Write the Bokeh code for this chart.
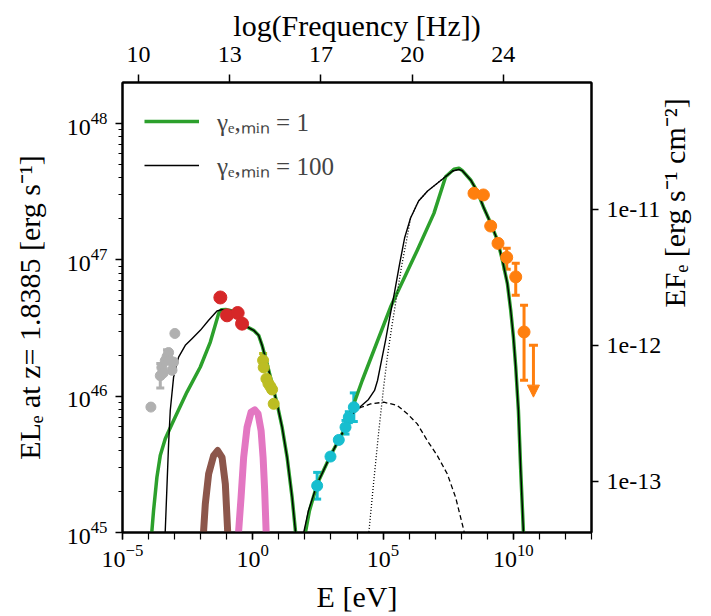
import math
import numpy as np
from bokeh.plotting import figure
from bokeh.models import (Range1d, LogAxis, FixedTicker, CustomJSTickFormatter,
                          Whisker, TeeHead, Arrow, NormalHead, ColumnDataSource, Legend,
                          LegendItem)
from bokeh.embed import file_html
from bokeh.resources import INLINE

# ---------------- data (log10 values) ----------------
# synchrotron hump
g1_sync_rise_logE = [-3.903, -3.871, -3.808, -3.679, -3.551, -3.359, -3.039, -2.526, -2.014, -1.630, -1.310, -1.207]
g1_sync_rise_logL = [44.939, 45.013, 45.160, 45.405, 45.564, 45.687, 45.821, 46.030, 46.214, 46.397, 46.606, 46.634]
g100_sync_rise_logE = [-3.367, -3.359, -3.295, -3.231, -3.167, -3.039, -2.847, -2.590, -2.334, -2.014, -1.694, -1.373, -1.207]
g100_sync_rise_logL = [44.939, 45.013, 45.331, 45.650, 45.895, 46.140, 46.287, 46.373, 46.422, 46.483, 46.557, 46.625, 46.634]
sync_fall_logE = [-1.015, -0.784, -0.477, -0.220, 0.034, 0.227, 0.357, 0.549, 0.741, 0.934, 1.126, 1.318, 1.510, 1.637, 1.675]
sync_fall_logL = [46.635, 46.626, 46.579, 46.508, 46.483, 46.446, 46.373, 46.238, 46.091, 45.944, 45.772, 45.551, 45.257, 45.013, 44.939]

# inverse-Compton hump
g1_ic_rise_logE = [2.002, 2.021, 2.175, 2.471, 2.982, 3.558, 4.200, 5.288, 6.314, 6.952, 7.401, 7.720, 7.913]
g1_ic_rise_logL = [44.939, 45.000, 45.160, 45.356, 45.564, 45.772, 46.115, 46.654, 47.071, 47.341, 47.610, 47.665, 47.672]
g100_ic_rise_logE = [1.944, 1.956, 2.136, 2.471, 2.982, 3.558, 3.877, 4.135, 4.442, 4.673, 4.788, 4.942, 5.096,
                     5.249, 5.441, 5.634, 5.826, 6.056, 6.364, 6.710, 7.094, 7.478, 7.670, 7.913]
g100_ic_rise_logL = [44.939, 45.000, 45.160, 45.356, 45.564, 45.772, 45.880, 45.924, 45.976, 46.042, 46.115, 46.263, 46.410,
                     46.571, 46.763, 46.968, 47.160, 47.307, 47.432, 47.505, 47.564, 47.623, 47.652, 47.663]
ic_fall_logE = [8.043, 8.362, 8.620, 8.873, 9.131, 9.388, 9.580, 9.772, 9.899, 10.003, 10.092, 10.195, 10.284, 10.388, 10.399]
ic_fall_logL = [47.654, 47.586, 47.500, 47.378, 47.268, 47.145, 46.998, 46.826, 46.630, 46.434, 46.213, 45.895, 45.454, 45.000, 44.939]

# external-Compton (dotted) and SSC (dashed) components
ec_logE = [4.443, 4.454, 4.646, 4.838, 5.030, 5.172, 5.326, 5.518, 5.711, 5.903, 6.056, 6.364, 6.710, 7.094, 7.478, 7.670, 7.913]
ec_logL = [44.939, 45.000, 45.380, 45.748, 46.079, 46.299, 46.498, 46.726, 46.954, 47.145, 47.307, 47.432, 47.505, 47.564, 47.623, 47.652, 47.663]
ssc_logE = [2.982, 3.558, 3.877, 4.135, 4.519, 5.030, 5.545, 5.930, 6.314, 6.698, 7.082, 7.467, 7.786, 8.104, 8.151]
ssc_logL = [45.564, 45.772, 45.880, 45.917, 45.943, 45.956, 45.932, 45.871, 45.797, 45.674, 45.564, 45.429, 45.257, 45.013, 44.939]

# thermal bumps
torus_logE = [-1.887, -1.887, -1.822, -1.695, -1.503, -1.349, -1.180, -1.053, -0.965, -0.957]
torus_logL = [44.939, 45.013, 45.209, 45.429, 45.564, 45.601, 45.551, 45.356, 45.013, 44.939]
disk_logE = [-0.542, -0.542, -0.450, -0.350, -0.219, -0.066, 0.073, 0.203, 0.319, 0.396, 0.457, 0.511, 0.515]
disk_logL = [44.939, 45.013, 45.257, 45.551, 45.772, 45.882, 45.900, 45.871, 45.748, 45.551, 45.307, 45.013, 44.939]

# observed points
gray_logE = [-3.91, -3.55, -3.49, -3.44, -3.36, -3.29, -3.23, -3.17, -3.10, -3.04, -2.99]
gray_logL = [45.92, 46.15, 46.21, 46.17, 46.26, 46.29, 46.32, 46.26, 46.19, 46.25, 46.46]
gray_err = [0.0, 0.09, 0.0, 0.0, 0.0, 0.05, 0.0, 0.0, 0.0, 0.0, 0.0]
red_logE = [-1.245, -0.988, -0.580, -0.411]
red_logL = [46.724, 46.593, 46.610, 46.532]
olive_logE = [0.396, 0.419, 0.523, 0.600, 0.676, 0.742, 0.803]
olive_logL = [46.263, 46.211, 46.128, 46.093, 46.071, 46.049, 45.944]
olive_err = [0.05, 0.0, 0.0, 0.0, 0.0, 0.0, 0.0]
cyan_logE = [2.471, 2.982, 3.301, 3.559, 3.686, 3.878]
cyan_logL = [45.343, 45.557, 45.679, 45.772, 45.846, 45.919]
cyan_err = [0.098, 0.02, 0.02, 0.05, 0.04, 0.105]
orange_logE = [8.490, 8.851, 9.131, 9.412, 9.746, 10.092, 10.411]
orange_logL = [47.488, 47.476, 47.248, 47.121, 47.018, 46.875, 46.471]
orange_err_hi = [0.0, 0.0, 0.0, 0.0, 0.068, 0.100, 0.196]
orange_err_lo = [0.0, 0.0, 0.0, 0.0, 0.086, 0.135, 0.355]
ul_logE = 10.772
ul_logL = 46.373
ul_arrow_dex = 0.38

# axes
x_range_log = (-5.0, 13.0)
y_range_log = (45.0, 48.301)
flux_offset_log = 58.371          # log10(4 pi d_L^2)
nu_offset_log = 14.3834           # log10(nu / E[eV])
nu_ticks = [10.0, 13.5, 17.0, 20.5, 24.0]
nu_tick_labels = ["10", "13", "17", "20", "24"]
flux_ticks = [1e-13, 1e-12, 1e-11]

x_title = "E [eV]"
top_title = "log(Frequency [Hz])"
left_title = "ELₑ at z= 1.8385 [erg s⁻¹]"
right_title = "EFₑ [erg s⁻¹ cm⁻²]"
legend_labels = ["γₑ,ₘᵢₙ = 1", "γₑ,ₘᵢₙ = 100"]

GREEN = "#2ca02c"
BROWN = "#8c564b"
PINK = "#e377c2"
GRAY = "#b0b0b0"
RED = "#d62728"
OLIVE = "#bcbd22"
CYAN = "#17becf"
ORANGE = "#ff7f0e"
FONT = "Liberation Serif"


def P(a):
    return 10.0 ** np.asarray(a, dtype=float)


p = figure(width=711, height=616, x_axis_type="log", y_axis_type="log",
           x_range=Range1d(10 ** x_range_log[0], 10 ** x_range_log[1]),
           y_range=Range1d(10 ** y_range_log[0], 10 ** y_range_log[1]),
           toolbar_location=None, output_backend="svg",
           min_border_left=122, min_border_right=120, min_border_top=82, min_border_bottom=84)
p.grid.visible = False
p.outline_line_color = "black"
p.outline_line_width = 2
p.background_fill_color = "white"
p.border_fill_color = "white"

# ---------------- curves ----------------
gl1 = p.line(P(g1_sync_rise_logE + sync_fall_logE), P(g1_sync_rise_logL + sync_fall_logL),
             line_color=GREEN, line_width=3.5, line_join="round")
p.line(P(g1_ic_rise_logE + ic_fall_logE), P(g1_ic_rise_logL + ic_fall_logL),
       line_color=GREEN, line_width=3.5, line_join="round")
bl1 = p.line(P(g100_sync_rise_logE + sync_fall_logE), P(g100_sync_rise_logL + sync_fall_logL),
             line_color="black", line_width=1.4, line_join="round")
p.line(P(g100_ic_rise_logE + ic_fall_logE), P(g100_ic_rise_logL + ic_fall_logL),
       line_color="black", line_width=1.4, line_join="round")
p.line(P(ssc_logE), P(ssc_logL), line_color="black", line_width=1.3, line_dash="5 3")
p.line(P(ec_logE), P(ec_logL), line_color="black", line_width=1.3, line_dash="1 2")
p.line(P(torus_logE), P(torus_logL), line_color=BROWN, line_width=7, line_join="round")
p.line(P(disk_logE), P(disk_logL), line_color=PINK, line_width=7, line_join="round")


# ---------------- error bars ----------------
def add_whisker(logE, logL, lo, hi, color, lw=3, head=8):
    sel = [i for i in range(len(logE)) if lo[i] > 0 or hi[i] > 0]
    if not sel:
        return
    src = ColumnDataSource(dict(
        x=[10 ** logE[i] for i in sel],
        lo=[10 ** (logL[i] - lo[i]) for i in sel],
        hi=[10 ** (logL[i] + hi[i]) for i in sel]))
    w = Whisker(source=src, base="x", lower="lo", upper="hi", dimension="height",
                line_color=color, line_width=lw,
                upper_head=TeeHead(size=head, line_color=color, line_width=lw),
                lower_head=TeeHead(size=head, line_color=color, line_width=lw))
    p.add_layout(w)


add_whisker(gray_logE, gray_logL, gray_err, gray_err, GRAY)
add_whisker(olive_logE, olive_logL, olive_err, olive_err, OLIVE)
add_whisker(cyan_logE, cyan_logL, cyan_err, cyan_err, CYAN)
add_whisker(orange_logE, orange_logL, orange_err_lo, orange_err_hi, ORANGE)

p.add_layout(Arrow(x_start=10 ** ul_logE, y_start=10 ** ul_logL,
                   x_end=10 ** ul_logE, y_end=10 ** (ul_logL - ul_arrow_dex),
                   line_color=ORANGE, line_width=3,
                   start=TeeHead(size=9, line_color=ORANGE, line_width=3),
                   end=NormalHead(size=12, fill_color=ORANGE, line_color=ORANGE, line_width=1)))

# ---------------- points ----------------
p.scatter(P(gray_logE), P(gray_logL), size=10, color=GRAY)
p.scatter(P(red_logE), P(red_logL), size=13, color=RED)
p.scatter(P(olive_logE), P(olive_logL), size=11, color=OLIVE)
p.scatter(P(cyan_logE), P(cyan_logL), size=11, color=CYAN)
p.scatter(P(orange_logE), P(orange_logL), size=12, color=ORANGE)


# ---------------- axes ----------------
def style_axis(ax, tick_out=7, minor_out=4, standoff=8, size="24px",
               title=None, title_size="28px", title_standoff=8):
    ax.axis_line_width = 2
    ax.axis_line_color = "black"
    ax.major_tick_line_width = 1.5
    ax.minor_tick_line_width = 1.2
    ax.major_tick_in = 0
    ax.major_tick_out = tick_out
    ax.minor_tick_in = 0
    ax.minor_tick_out = minor_out
    ax.major_label_standoff = standoff
    ax.major_label_text_font = FONT
    ax.major_label_text_font_size = size
    ax.major_label_text_color = "black"
    if title is not None:
        ax.axis_label = title
        ax.axis_label_text_font = FONT
        ax.axis_label_text_font_size = title_size
        ax.axis_label_text_font_style = "normal"
        ax.axis_label_text_color = "black"
        ax.axis_label_standoff = title_standoff


xa = p.xaxis[0]
xa.ticker = FixedTicker(ticks=[1e-5, 1.0, 1e5, 1e10],
                        minor_ticks=[10.0 ** k for k in range(int(x_range_log[0]), int(x_range_log[1]) + 1)])
style_axis(xa, tick_out=7, minor_out=7, standoff=5, title=x_title, title_size="30px", title_standoff=10)

ya = p.yaxis[0]
ya.ticker = FixedTicker(ticks=[1e45, 1e46, 1e47, 1e48],
                        minor_ticks=[m * 10.0 ** k for k in range(45, 49) for m in range(2, 10)])
style_axis(ya, tick_out=7, minor_out=4, standoff=8, title=left_title, title_size="30px", title_standoff=18)

p.extra_y_ranges = {"flux": Range1d(10 ** (y_range_log[0] - flux_offset_log),
                                    10 ** (y_range_log[1] - flux_offset_log))}
ra = LogAxis(y_range_name="flux", ticker=FixedTicker(ticks=flux_ticks, minor_ticks=[]),
             formatter=CustomJSTickFormatter(code="return tick.toExponential(0);"))
style_axis(ra, tick_out=7, minor_out=0, standoff=8, title=right_title, title_size="30px", title_standoff=10)
ra.axis_label_orientation = math.pi / 2
p.add_layout(ra, "right")

top_ticks = [10 ** (v - nu_offset_log) for v in nu_ticks]
ta = LogAxis(ticker=FixedTicker(ticks=top_ticks, minor_ticks=[]),
             formatter=CustomJSTickFormatter(args=dict(tvals=top_ticks, tlabels=nu_tick_labels), code="""
let best = 0, bd = Infinity;
for (let i = 0; i < tvals.length; i++) {
  const d = Math.abs(Math.log10(tvals[i]) - Math.log10(tick));
  if (d < bd) { bd = d; best = i; }
}
return tlabels[best];
"""))
style_axis(ta, tick_out=8, minor_out=0, standoff=13, title=top_title, title_size="30px", title_standoff=2)
p.add_layout(ta, "above")

# ---------------- legend ----------------
legend = Legend(items=[LegendItem(label=legend_labels[0], renderers=[gl1]),
                       LegendItem(label=legend_labels[1], renderers=[bl1])],
                location="top_left", margin=12, padding=10, glyph_width=55, glyph_height=24,
                label_standoff=18, spacing=10, border_line_alpha=0, background_fill_alpha=0,
                label_text_font=FONT, label_text_font_size="25px")
p.add_layout(legend)

open("out.html", "w").write(file_html(p, INLINE))
